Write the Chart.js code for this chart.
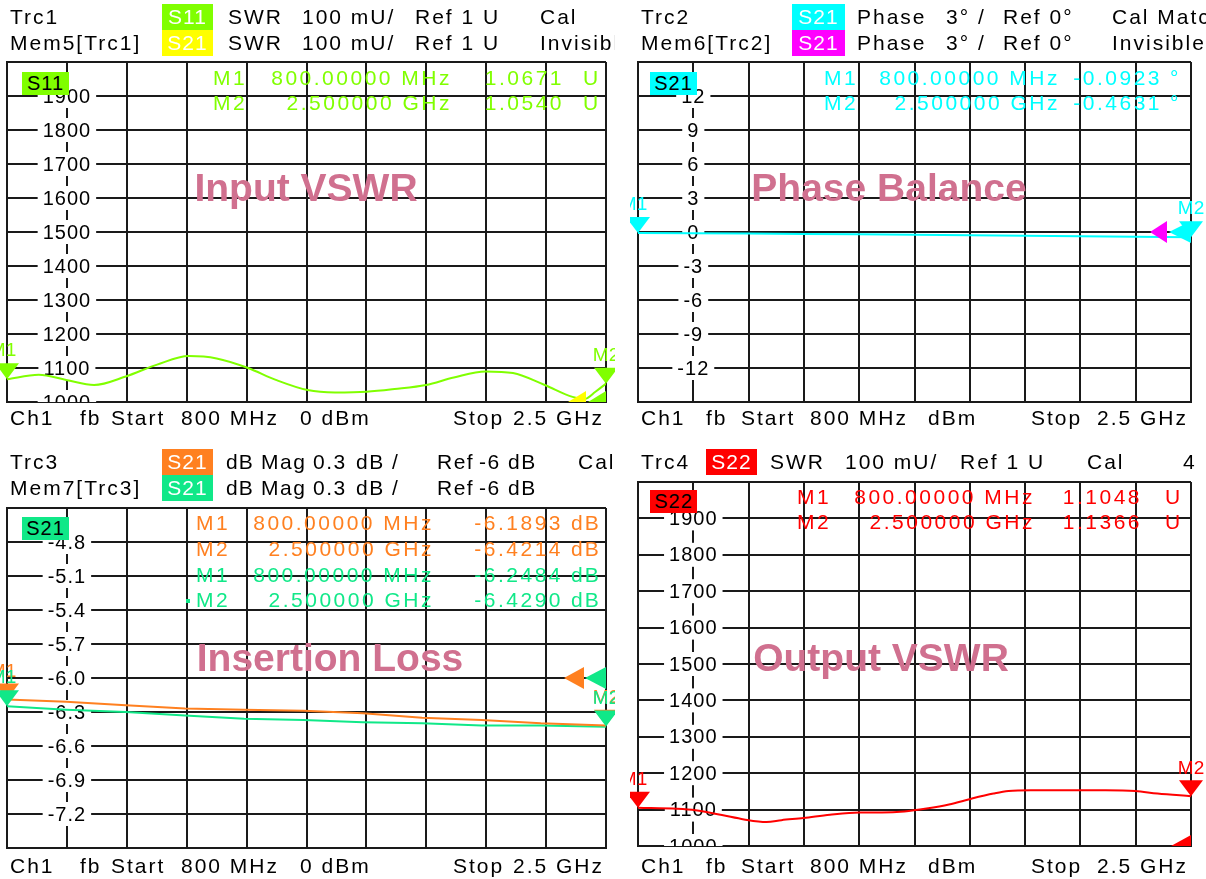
<!DOCTYPE html>
<html>
<head>
<meta charset="utf-8">
<script src="https://cdn.jsdelivr.net/npm/chart.js@4.4.1/dist/chart.umd.min.js"></script>
<style>
body { margin: 0; background: #fff; }
#page { position: relative; width: 1206px; height: 879px; overflow: hidden; background: #fff;
        font-family: "Liberation Sans", Arial, sans-serif; }
.panel { position: absolute; overflow: hidden; }
.panel canvas { position: absolute; left: 0; top: 0; }
.t { position: absolute; white-space: nowrap; font-size: 21px; line-height: 24px; letter-spacing: 2px; color: #000; }
.box { position: absolute; text-align: center; font-size: 21px; letter-spacing: 1px; }
.title { position: absolute; white-space: nowrap; font-weight: bold; font-size: 39px; color: #d0708f;
         transform: translate(-50%, -50%); }
</style>
</head>
<body>
<div id="page"></div>
<script>
// sweep 800 MHz .. 2.5 GHz, 10 divisions
const fStart = 800, fStop = 2500;
const fGrid = [800, 970, 1140, 1310, 1480, 1650, 1820, 1990, 2160, 2330, 2500];

// Trc1 S11 SWR (mU)
const s11Freq = [800, 890, 968, 1047, 1137, 1226, 1316, 1395, 1484, 1563, 1653, 1731, 1821, 1900, 1989, 2068, 2158, 2236, 2326, 2405, 2440, 2470, 2500];
const s11Swr = [1067, 1080, 1065, 1050, 1075, 1110, 1135, 1128, 1100, 1065, 1035, 1028, 1030, 1038, 1050, 1072, 1090, 1085, 1050, 1015, 1009, 1030, 1054];
const s11Mk = [1067.1, 1054.0];

// Trc2 S21 phase (deg)
const phFreq = [800, 970, 1140, 1310, 1480, 1650, 1820, 1990, 2160, 2330, 2500];
const s21Phase = [-0.09, -0.12, -0.14, -0.17, -0.20, -0.24, -0.28, -0.32, -0.37, -0.41, -0.46];
const phMk = [-0.0923, -0.4631];

// Trc3 / Mem7 S21 dB Mag
const magFreq = [800, 968, 1137, 1305, 1473, 1642, 1810, 1978, 2147, 2315, 2500];
const s21Mag = [-6.19, -6.21, -6.24, -6.27, -6.28, -6.29, -6.31, -6.35, -6.37, -6.40, -6.42];
const mem7Mag = [-6.25, -6.28, -6.30, -6.33, -6.36, -6.37, -6.39, -6.40, -6.42, -6.42, -6.43];
const magMk = [-6.1893, -6.4214];
const mem7Mk = [-6.2484, -6.4290];

// Trc4 S22 SWR (mU)
const s22Freq = [800, 920, 977, 1058, 1126, 1195, 1241, 1309, 1390, 1481, 1550, 1619, 1687, 1756, 1825, 1893, 1939, 2008, 2122, 2237, 2329, 2397, 2500];
const s22Swr = [1105, 1102, 1098, 1085, 1073, 1066, 1071, 1077, 1086, 1092, 1092, 1095, 1103, 1114, 1130, 1144, 1151, 1153, 1153, 1153, 1151, 1144, 1137];
const s22Mk = [1104.8, 1136.6];

// y grids and the labels written on the second grid line
const swrGrid = [1000, 1100, 1200, 1300, 1400, 1500, 1600, 1700, 1800, 1900, 2000];
const swrLabels = [1900, 1800, 1700, 1600, 1500, 1400, 1300, 1200, 1100, 1000];
const phGrid = [-15, -12, -9, -6, -3, 0, 3, 6, 9, 12, 15];
const phLabels = [12, 9, 6, 3, 0, -3, -6, -9, -12];
const magGrid = [-7.5, -7.2, -6.9, -6.6, -6.3, -6.0, -5.7, -5.4, -5.1, -4.8, -4.5];
const magLabels = [-4.8, -5.1, -5.4, -5.7, -6.0, -6.3, -6.6, -6.9, -7.2];

const GREEN = '#80ff00', YELLOW = '#ffff00', CYAN = '#00ffff', MAGENTA = '#ff00ff';
const ORANGE = '#ff8020', MINT = '#10e888', RED = '#ff0000';
const gridColor = '#1a1a1a';
const FONT = '"Liberation Sans", Arial, sans-serif';

const page = document.getElementById('page');

const panels = {
  tl: {x: 0, y: 0, w: 615, h: 440, plot: [7, 62, 606, 402]},
  tr: {x: 630, y: 0, w: 576, h: 440, plot: [638, 62, 1191, 402]},
  bl: {x: 0, y: 440, w: 615, h: 439, plot: [7, 508, 606, 848]},
  br: {x: 630, y: 440, w: 576, h: 439, plot: [638, 482, 1191, 846]}
};

function panelDiv(p) {
  const d = document.createElement('div');
  d.className = 'panel';
  Object.assign(d.style, {left: p.x + 'px', top: p.y + 'px', width: p.w + 'px', height: p.h + 'px'});
  page.appendChild(d);
  p.el = d;
}

function put(p, text, x, y, o = {}) {
  const d = document.createElement('div');
  d.className = 't';
  d.textContent = text;
  d.style.left = (x - p.x) + 'px';
  d.style.top = (y - p.y - 12) + 'px';
  if (o.color) d.style.color = o.color;
  if (o.right) d.style.transform = 'translateX(-100%)';
  if (o.ls != null) d.style.letterSpacing = o.ls + 'px';
  p.el.appendChild(d);
}

function box(p, text, x, y, w, h, bg, fg, size) {
  const d = document.createElement('div');
  d.className = 'box';
  Object.assign(d.style, {left: (x - p.x) + 'px', top: (y - p.y) + 'px', width: w + 'px', height: h + 'px',
    lineHeight: h + 'px', background: bg, color: fg, fontSize: size + 'px'});
  d.textContent = text;
  p.el.appendChild(d);
}

function title(p, text, x, y) {
  const d = document.createElement('div');
  d.className = 'title';
  d.textContent = text;
  d.style.left = (x - p.x) + 'px';
  d.style.top = (y - p.y) + 'px';
  p.el.appendChild(d);
}

// grid labels, reference triangles and marker triangles
function vnaPlugin(cfg) {
  return {
    id: 'vna',
    beforeDatasetsDraw(chart) {
      const {ctx, chartArea: a, scales: {x, y}} = chart;
      ctx.save();
      ctx.beginPath();
      ctx.rect(a.left, a.top, a.right - a.left, a.bottom - a.top);
      ctx.clip();
      ctx.font = '20px ' + FONT;
      ctx.letterSpacing = '1px';
      ctx.textAlign = 'center';
      ctx.textBaseline = 'middle';
      const px = x.getPixelForValue(fGrid[1]);
      cfg.labels.forEach(v => {
        const py = y.getPixelForValue(v);
        const s = cfg.fmt(v);
        const w = ctx.measureText(s).width + 10;
        ctx.fillStyle = '#fff';
        ctx.fillRect(px - w / 2, py - 12, w, 24);
        ctx.fillStyle = '#000';
        ctx.fillText(s, px, py + 1);
      });
      ctx.restore();
    },
    afterDatasetsDraw(chart) {
      const {ctx, chartArea: a, scales: {x, y}} = chart;
      // ref level arrows, right edge
      ctx.save();
      ctx.beginPath();
      ctx.rect(a.left, a.top, a.right - a.left, a.bottom - a.top);
      ctx.clip();
      const ry = y.getPixelForValue(cfg.ref);
      cfg.refs.forEach(rf => {
        const bx = a.right - rf.off;
        ctx.fillStyle = rf.color;
        ctx.beginPath();
        ctx.moveTo(bx - rf.w, ry);
        ctx.lineTo(bx, ry - 11);
        ctx.lineTo(bx, ry + 11);
        ctx.closePath();
        ctx.fill();
      });
      ctx.restore();
      // markers M1 / M2
      ctx.save();
      ctx.font = '19px ' + FONT;
      ctx.textAlign = 'center';
      ctx.textBaseline = 'middle';
      cfg.markers.forEach(m => {
        [fStart, fStop].forEach((f, i) => {
          const px = x.getPixelForValue(f), py = y.getPixelForValue(m.vals[i]);
          ctx.fillStyle = m.color;
          ctx.beginPath();
          ctx.moveTo(px, py);
          ctx.lineTo(px - 12, py - 16);
          ctx.lineTo(px + 12, py - 16);
          ctx.closePath();
          ctx.fill();
          ctx.fillText('M' + (i + 1), px - (i ? 0 : 4), py - 28);
        });
      });
      ctx.restore();
    }
  };
}

function makeChart(p, cfg) {
  const cv = document.createElement('canvas');
  cv.width = p.w;
  cv.height = p.h;
  p.el.appendChild(cv);
  const [l, t, r, b] = p.plot;
  const grid = {color: gridColor, lineWidth: 2, drawTicks: false};
  const border = {color: gridColor, width: 2};
  return new Chart(cv, {
    type: 'line',
    data: {
      datasets: cfg.traces.map(tr => ({
        data: tr.f.map((f, i) => ({x: f, y: tr.v[i]})),
        borderColor: tr.color,
        borderWidth: 2,
        pointRadius: 0,
        cubicInterpolationMode: tr.smooth ? 'monotone' : 'default',
        tension: tr.smooth ? 0.4 : 0,
        fill: false
      }))
    },
    options: {
      responsive: false,
      animation: false,
      devicePixelRatio: 1,
      layout: {padding: {left: l - p.x, top: t - p.y, right: p.x + p.w - r, bottom: p.y + p.h - b}},
      plugins: {legend: {display: false}, tooltip: {enabled: false}},
      scales: {
        x: {
          type: 'linear', min: fStart, max: fStop,
          afterBuildTicks: s => { s.ticks = fGrid.map(v => ({value: v})); },
          ticks: {display: false}, grid: grid, border: border
        },
        y: {
          type: 'linear', min: cfg.grid[0], max: cfg.grid[cfg.grid.length - 1],
          afterBuildTicks: s => { s.ticks = cfg.grid.map(v => ({value: v})); },
          ticks: {display: false}, grid: grid, border: border
        }
      }
    },
    plugins: [vnaPlugin(cfg)]
  });
}

Object.values(panels).forEach(panelDiv);
const {tl, tr, bl, br} = panels;

// --- Trc1: Input VSWR ---
makeChart(tl, {
  grid: swrGrid, labels: swrLabels, fmt: v => String(v), ref: 1000,
  traces: [{f: s11Freq, v: s11Swr, color: GREEN, smooth: true}],
  refs: [{color: YELLOW, off: 20, w: 18}, {color: GREEN, off: 0, w: 18}],
  markers: [{color: GREEN, vals: s11Mk}]
});
put(tl, 'Trc1', 10, 17); box(tl, 'S11', 162, 4, 51, 26, GREEN, '#fff', 21);
put(tl, 'SWR', 228, 17); put(tl, '100 mU/', 302, 17); put(tl, 'Ref 1 U', 415, 17); put(tl, 'Cal', 540, 17);
put(tl, 'Mem5[Trc1]', 10, 43); box(tl, 'S21', 162, 30, 51, 26, YELLOW, '#fff', 21);
put(tl, 'SWR', 228, 43); put(tl, '100 mU/', 302, 43); put(tl, 'Ref 1 U', 415, 43); put(tl, 'Invisible', 540, 43);
box(tl, 'S11', 22, 72, 47, 23, GREEN, '#000', 20);
[['M1', '800.00000 MHz', 78], ['M2', '2.500000 GHz', 103]].forEach(([m, f, y], i) => {
  put(tl, m, 213, y, {color: GREEN, ls: 2.5});
  put(tl, f, 452, y, {color: GREEN, ls: 2.5, right: true});
  put(tl, (s11Mk[i] / 1000).toFixed(4), 564, y, {color: GREEN, ls: 2.5, right: true});
  put(tl, 'U', 583, y, {color: GREEN});
});
title(tl, 'Input VSWR', 306, 188);

// --- Trc2: Phase Balance ---
makeChart(tr, {
  grid: phGrid, labels: phLabels, fmt: v => String(v), ref: 0,
  traces: [{f: phFreq, v: s21Phase, color: CYAN}],
  refs: [{color: MAGENTA, off: 24, w: 17}, {color: CYAN, off: 0, w: 22}],
  markers: [{color: CYAN, vals: phMk}]
});
put(tr, 'Trc2', 641, 17); box(tr, 'S21', 792, 4, 53, 26, CYAN, '#fff', 21);
put(tr, 'Phase', 857, 17); put(tr, '3° /', 946, 17); put(tr, 'Ref 0°', 1003, 17); put(tr, 'Cal Match', 1112, 17);
put(tr, 'Mem6[Trc2]', 641, 43); box(tr, 'S21', 792, 30, 53, 26, MAGENTA, '#fff', 21);
put(tr, 'Phase', 857, 43); put(tr, '3° /', 946, 43); put(tr, 'Ref 0°', 1003, 43); put(tr, 'Invisible', 1112, 43);
box(tr, 'S21', 650, 72, 47, 23, CYAN, '#000', 20);
[['M1', '800.00000 MHz', 78], ['M2', '2.500000 GHz', 103]].forEach(([m, f, y], i) => {
  put(tr, m, 824, y, {color: CYAN, ls: 2.5});
  put(tr, f, 1060, y, {color: CYAN, ls: 2.5, right: true});
  put(tr, phMk[i].toFixed(4), 1162, y, {color: CYAN, ls: 2.5, right: true});
  put(tr, '°', 1170, y, {color: CYAN});
});
title(tr, 'Phase Balance', 889, 188);

// --- Trc3: Insertion Loss ---
makeChart(bl, {
  grid: magGrid, labels: magLabels, fmt: v => v.toFixed(1), ref: -6.0,
  traces: [{f: magFreq, v: s21Mag, color: ORANGE}, {f: magFreq, v: mem7Mag, color: MINT}],
  refs: [{color: ORANGE, off: 22, w: 20}, {color: MINT, off: 0, w: 21}],
  markers: [{color: ORANGE, vals: magMk}, {color: MINT, vals: mem7Mk}]
});
put(bl, 'Trc3', 10, 462); box(bl, 'S21', 162, 449, 51, 26, ORANGE, '#fff', 21);
put(bl, 'Mem7[Trc3]', 10, 488); box(bl, 'S21', 162, 475, 51, 26, MINT, '#fff', 21);
[462, 488].forEach(y => {
  put(bl, 'dB', 226, y, {ls: 1}); put(bl, 'Mag', 261, y, {ls: 1.5});
  put(bl, '0.3', 313, y, {ls: 1.5}); put(bl, 'dB /', 356, y, {ls: 1.5});
  put(bl, 'Ref', 437, y, {ls: 1.5}); put(bl, '-6 dB', 479, y, {ls: 1.5});
});
put(bl, 'Cal', 578, 462);
box(bl, 'S21', 22, 517, 47, 23, MINT, '#000', 20);
[[magMk, ORANGE, 523, 549], [mem7Mk, MINT, 575, 600]].forEach(([mk, c, y1, y2]) => {
  [['M1', '800.00000 MHz', y1], ['M2', '2.500000 GHz', y2]].forEach(([m, f, y], i) => {
    put(bl, m, 196, y, {color: c, ls: 2.5});
    put(bl, f, 434, y, {color: c, ls: 2.5, right: true});
    put(bl, mk[i].toFixed(4), 563, y, {color: c, ls: 2.5, right: true});
    put(bl, 'dB', 571, y, {color: c});
  });
});
box(bl, '', 186, 599, 4, 4, MINT, '#000', 1);
title(bl, 'Insertion Loss', 330, 658);

// --- Trc4: Output VSWR ---
makeChart(br, {
  grid: swrGrid, labels: swrLabels, fmt: v => String(v), ref: 1000,
  traces: [{f: s22Freq, v: s22Swr, color: RED, smooth: true}],
  refs: [{color: RED, off: 0, w: 20}],
  markers: [{color: RED, vals: s22Mk}]
});
put(br, 'Trc4', 641, 462); box(br, 'S22', 706, 449, 51, 26, RED, '#fff', 21);
put(br, 'SWR', 770, 462); put(br, '100 mU/', 845, 462); put(br, 'Ref 1 U', 960, 462); put(br, 'Cal', 1087, 462);
put(br, '4', 1183, 462);
box(br, 'S22', 650, 490, 47, 23, RED, '#000', 20);
[['M1', '800.00000 MHz', 497], ['M2', '2.500000 GHz', 522]].forEach(([m, f, y], i) => {
  put(br, m, 797, y, {color: RED, ls: 2.5});
  put(br, f, 1035, y, {color: RED, ls: 2.5, right: true});
  put(br, (s22Mk[i] / 1000).toFixed(4), 1142, y, {color: RED, ls: 2.5, right: true});
  put(br, 'U', 1165, y, {color: RED});
});
title(br, 'Output VSWR', 881, 658);

// channel footers
[[tl, 418, '0 dBm'], [bl, 866, '0 dBm']].forEach(([p, y, pw]) => {
  put(p, 'Ch1', 10, y); put(p, 'fb', 80, y); put(p, 'Start', 111, y); put(p, '800 MHz', 181, y);
  put(p, pw, 300, y); put(p, 'Stop', 453, y); put(p, '2.5 GHz', 513, y);
});
[[tr, 418], [br, 866]].forEach(([p, y]) => {
  put(p, 'Ch1', 641, y); put(p, 'fb', 706, y); put(p, 'Start', 741, y); put(p, '800 MHz', 810, y);
  put(p, 'dBm', 928, y); put(p, 'Stop', 1031, y); put(p, '2.5 GHz', 1097, y);
});
</script>
</body>
</html>
